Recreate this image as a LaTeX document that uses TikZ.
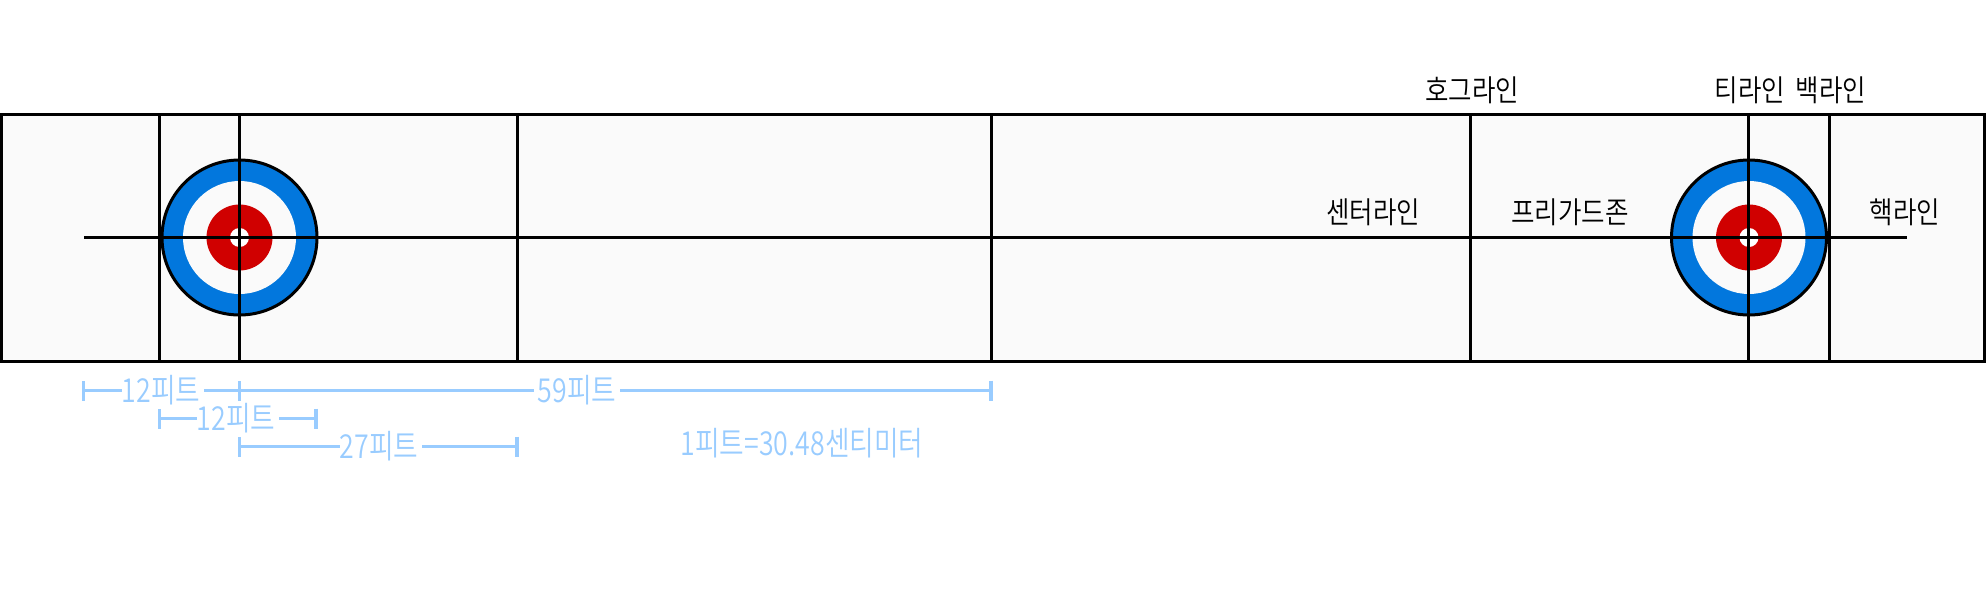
\documentclass[tikz,border=0pt]{standalone}
\usepackage{fontspec}
\setmainfont[UprightFont={* DemiLight},FakeStretch=0.85]{Noto Sans CJK KR}
\newfontfamily\dimfont[UprightFont={* DemiLight},FakeStretch=0.81]{Noto Sans CJK KR}
\usetikzlibrary{arrows.meta}
\definecolor{sheet}{HTML}{FAFAFA}
\definecolor{ringblue}{HTML}{0277DD}
\definecolor{ringred}{HTML}{D00000}
\definecolor{dimblue}{HTML}{99CCFF}
\tikzset{
  every node/.style={inner sep=0pt,outer sep=0pt},
  courtline/.style={draw=black,line width=3pt},
  ringline/.style={draw=black,line width=3pt},
  lbl/.style={font=\fontsize{30}{34}\selectfont,text=black,anchor=center},
  dimlbl/.style={font=\dimfont\fontsize{33}{38}\selectfont,text=dimblue,anchor=center},
  dimstart/.style={draw=dimblue,line width=3.2pt,{Bar[width=20pt,line width=3.6pt]}-},
  dimend/.style={draw=dimblue,line width=3.2pt,-{Bar[width=20pt,line width=3.6pt]}},
  dimplain/.style={draw=dimblue,line width=3.2pt},
}
\begin{document}
\begin{tikzpicture}[x=1pt,y=-1pt]
\useasboundingbox (0,0) rectangle (1986,600);
\node (sheetA) at (1.5,114.5) {};
\node (sheetB) at (1984.5,361.5) {};
\fill[sheet] (sheetA) rectangle (sheetB);
\foreach \n/\cx in {L/239.5,R/1749}{
  \node[circle,fill=ringblue,ringline,minimum size=155pt] (outer\n) at (\cx,237.5) {};
  \node[circle,fill=sheet,minimum size=113pt] (mid\n) at (\cx,237.5) {};
  \node[circle,fill=ringred,minimum size=66pt] (red\n) at (\cx,237.5) {};
  \node[circle,fill=white,minimum size=19pt] (pin\n) at (\cx,237.5) {};
}
\foreach \n/\x in {a/159.5,b/239.5,c/517.5,d/991.5,e/1470.5,f/1748.5,g/1829}{
  \coordinate (t\n) at (\x,114.5);
  \coordinate (u\n) at (\x,361.5);
  \draw[courtline] (t\n) -- (u\n);
}
\coordinate (cl1) at (84,237.5);
\coordinate (cl2) at (1907,237.5);
\draw[courtline] (cl1) -- (cl2);
\draw[courtline] (sheetA) rectangle (sheetB);
\node[lbl] (hog) at (1472,90) {호그라인};
\node[lbl] (tee) at (1750,90) {티라인};
\node[lbl] (back) at (1831,90) {백라인};
\node[lbl] (center) at (1373,212) {센터라인};
\node[lbl] (free) at (1570,212) {프리가드존};
\node[lbl] (hack) at (1905,212) {핵라인};
\coordinate (d1a) at (81.5,390.5);
\coordinate (d1b) at (239.5,390.5);
\coordinate (d1c) at (993,390.5);
\node[dimlbl] (d1t) at (161,390) {12피트};
\node[dimlbl] (d1u) at (577,390) {59피트};
\draw[dimstart] (d1a) -- (d1t.west|-d1a);
\draw[dimplain] ([xshift=4pt]d1t.east|-d1a) -- ([xshift=-4pt]d1u.west|-d1a);
\draw[dimend] ([xshift=4pt]d1u.east|-d1a) -- (d1c);
\draw[dimblue,line width=3.6pt] ([yshift=-10pt]d1b) -- ([yshift=10pt]d1b);
\coordinate (d2a) at (157.5,418.5);
\coordinate (d2b) at (317.5,418.5);
\node[dimlbl] (d2t) at (236,418) {12피트};
\draw[dimstart] (d2a) -- (d2t.west|-d2a);
\draw[dimend] ([xshift=4pt]d2t.east|-d2a) -- (d2b);
\coordinate (d3a) at (237.5,446.5);
\coordinate (d3b) at (519,446.5);
\node[dimlbl] (d3t) at (379,446) {27피트};
\draw[dimstart] (d3a) -- (d3t.west|-d3a);
\draw[dimend] ([xshift=4pt]d3t.east|-d3a) -- (d3b);
\node[dimlbl] (conv) at (802,443) {1피트=30.48센티미터};
\end{tikzpicture}
\end{document}
